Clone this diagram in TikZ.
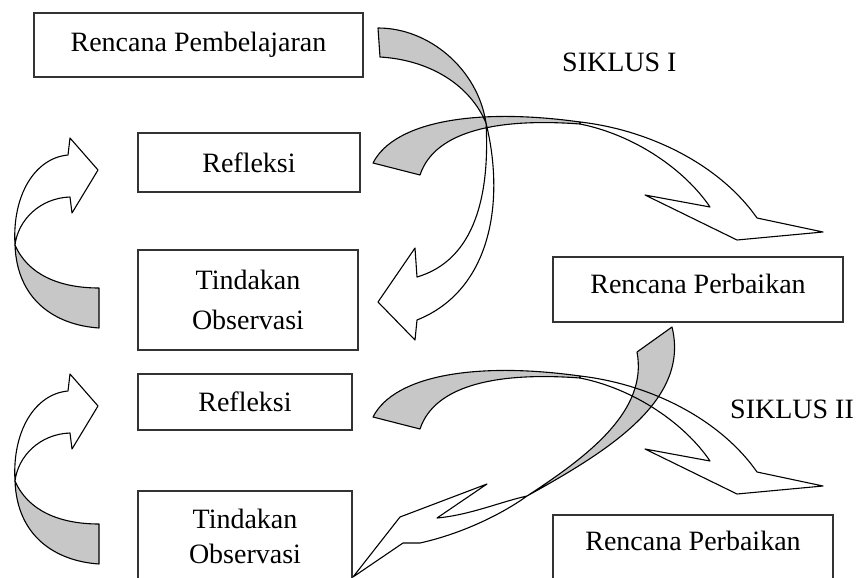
\documentclass[tikz,border=0pt]{standalone}
\usepackage{fontspec}
\setmainfont{Liberation Serif}
\begin{document}
\begin{tikzpicture}[x=1pt,y=-1pt,
  box/.style={draw=black!80, line width=1.4pt, fill=white, inner sep=0pt, align=center},
  txt/.style={font=\fontsize{28}{40}\selectfont},
  back/.style={fill=black!22},
  front/.style={fill=white},
  edge/.style={draw=black, line width=1.1pt, line join=round},
  lbl/.style={font=\fontsize{28}{34}\selectfont, inner sep=0pt, anchor=base west}]
\useasboundingbox (0,0) rectangle (862,578);
\clip (0,0) rectangle (862,578);
\fill[white] (0,0) rectangle (862,578);

% boxes
\node[box, txt, minimum width=329pt, minimum height=64pt] (rp) at (198.5,45) {Rencana Pembelajaran};
\node[box, txt, minimum width=222pt, minimum height=59pt] (ref1) at (249,162.5) {Refleksi};
\node[box, txt, minimum width=220pt, minimum height=100pt] (to1) at (248,300) {Tindakan\\Observasi};
\node[box, txt, minimum width=290pt, minimum height=65pt, text height=19pt, text depth=12pt] (rpb1) at (698,289.5) {Rencana Perbaikan};
\node[box, txt, minimum width=214pt, minimum height=56pt] (ref2) at (245,402) {Refleksi};
\node[box, font=\fontsize{28}{35}\selectfont, minimum width=214pt, minimum height=90pt] (to2) at (245,536) {Tindakan\\Observasi};
\node[box, txt, minimum width=280pt, minimum height=80pt, text height=19pt, text depth=29pt] (rpb2) at (693,555) {Rencana Perbaikan};

\node[lbl] (s1) at (562,71) {SIKLUS I};
\node[lbl] (s2) at (730,418) {SIKLUS II};

% arrow shapes
\def\Agray{(378,28) .. controls (430,28) and (478,70) .. (486,123) .. controls (470,85) and (430,60) .. (380,57) -- cycle}
\def\Awhite{(486,123) .. controls (505,200) and (492,290) .. (417,320) -- (415,340) -- (378,302) -- (415,248) -- (417,277) .. controls (475,260) and (490,195) .. (486,123) -- cycle}
\def\Bgray{(373,163) .. controls (395,120) and (480,108) .. (580,122) -- (580,124) .. controls (500,118) and (435,130) .. (420,175) -- cycle}
\def\Bwhite{(580,122) .. controls (650,130) and (720,165) .. (757,218) -- (823,232) -- (737,240) -- (645,195) -- (710,207) .. controls (685,170) and (635,135) .. (580,124) -- cycle}
\def\Cgray{(15,245) .. controls (17,300) and (55,325) .. (99,328) -- (99,288) .. controls (60,288) and (28,275) .. (15,245) -- cycle}
\def\Cwhite{(15,245) .. controls (12,195) and (35,158) .. (68,155) -- (70,138) -- (98,170) -- (72,213) -- (70,197) .. controls (40,198) and (18,220) .. (15,245) -- cycle}
\def\Egray{(637,352) -- (672,327) .. controls (690,400) and (610,450) .. (527,496) .. controls (590,455) and (648,410) .. (637,352) -- cycle}
\def\Ewhite{(527,496) .. controls (500,502) and (470,515) .. (437,518) -- (487,484) -- (400,517) -- (353,577) -- (403,543) -- (420,543) .. controls (465,533) and (505,512) .. (527,496) -- cycle}

% fills
\fill[back] \Agray;
\fill[front] \Awhite;
\fill[back] \Bgray;
\fill[front] \Bwhite;
\fill[back] \Cgray;
\fill[front] \Cwhite;
\begin{scope}[yshift=-236pt]
  \fill[back] \Cgray;
  \fill[front] \Cwhite;
\end{scope}
\begin{scope}[yshift=-254pt]
  \fill[back] \Bgray;
  \fill[front] \Bwhite;
\end{scope}
\fill[back] \Egray;
\fill[front] \Ewhite;

% outlines
\draw[edge] \Agray;
\draw[edge] \Awhite;
\draw[edge] \Bgray;
\draw[edge] \Bwhite;
\draw[edge] \Cgray;
\draw[edge] \Cwhite;
\begin{scope}[yshift=-236pt]
  \draw[edge] \Cgray;
  \draw[edge] \Cwhite;
\end{scope}
\begin{scope}[yshift=-254pt]
  \draw[edge] \Bgray;
  \draw[edge] \Bwhite;
\end{scope}
\draw[edge] \Egray;
\draw[edge] \Ewhite;
\end{tikzpicture}
\end{document}
